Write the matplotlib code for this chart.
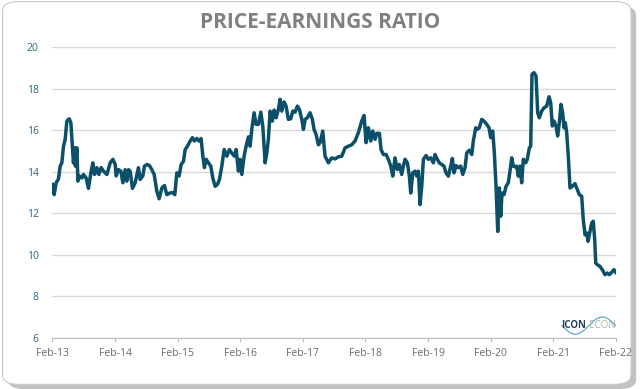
import matplotlib.pyplot as plt
import numpy as np
from matplotlib.patches import FancyBboxPatch

# years since Feb-13, price-earnings ratio
years = [0.0, 0.027, 0.059, 0.096, 0.123, 0.150, 0.176, 0.203, 0.230, 0.267, 0.294, 0.319, 0.335, 0.358, 0.367,
         0.390, 0.406, 0.431, 0.470, 0.495, 0.538, 0.575, 0.613, 0.645, 0.671, 0.709, 0.741, 0.778, 0.815, 0.869,
         0.922, 0.965, 1.002, 1.018, 1.054, 1.093, 1.125, 1.161, 1.188, 1.214, 1.241, 1.278, 1.321, 1.374, 1.401,
         1.444, 1.470, 1.508, 1.550, 1.588, 1.625, 1.668, 1.704, 1.748, 1.789, 1.827, 1.880, 1.923, 1.955, 1.987,
         2.024, 2.056, 2.093, 2.120, 2.157, 2.200, 2.236, 2.268, 2.307, 2.343, 2.375, 2.403, 2.428, 2.455, 2.492,
         2.530, 2.562, 2.599, 2.636, 2.668, 2.706, 2.743, 2.786, 2.827, 2.866, 2.907, 2.935, 2.971, 2.998, 3.026,
         3.062, 3.094, 3.131, 3.158, 3.185, 3.222, 3.254, 3.291, 3.329, 3.361, 3.398, 3.425, 3.450, 3.478, 3.514,
         3.542, 3.574, 3.610, 3.637, 3.665, 3.701, 3.733, 3.770, 3.808, 3.840, 3.877, 3.914, 3.946, 3.984, 4.010,
         4.037, 4.073, 4.116, 4.153, 4.180, 4.212, 4.249, 4.276, 4.319, 4.356, 4.409, 4.463, 4.516, 4.569, 4.623,
         4.675, 4.728, 4.783, 4.835, 4.888, 4.942, 4.979, 5.011, 5.048, 5.086, 5.118, 5.155, 5.182, 5.224, 5.251,
         5.288, 5.331, 5.367, 5.406, 5.438, 5.474, 5.511, 5.543, 5.581, 5.607, 5.634, 5.671, 5.703, 5.725, 5.757,
         5.794, 5.821, 5.847, 5.874, 5.901, 5.927, 5.970, 6.006, 6.045, 6.086, 6.113, 6.150, 6.182, 6.220, 6.257,
         6.289, 6.326, 6.364, 6.390, 6.417, 6.449, 6.486, 6.524, 6.556, 6.593, 6.620, 6.661, 6.700, 6.725, 6.764,
         6.789, 6.821, 6.859, 6.896, 6.939, 6.976, 7.003, 7.035, 7.061, 7.088, 7.115, 7.141, 7.163, 7.184, 7.216,
         7.248, 7.284, 7.311, 7.339, 7.364, 7.391, 7.419, 7.444, 7.471, 7.498, 7.524, 7.562, 7.588, 7.620, 7.642,
         7.663, 7.695, 7.727, 7.754, 7.780, 7.818, 7.855, 7.898, 7.935, 7.962, 7.987, 8.014, 8.046, 8.073, 8.099,
         8.126, 8.153, 8.174, 8.195, 8.217, 8.243, 8.270, 8.307, 8.350, 8.387, 8.419, 8.457, 8.482, 8.510, 8.537,
         8.558, 8.589, 8.617, 8.642, 8.665, 8.681, 8.706, 8.749, 8.792, 8.829, 8.866, 8.898, 8.936, 8.973, 9.0]
pe = [13.39, 12.9, 13.47, 13.66, 14.27, 14.43, 15.23, 15.56, 16.44, 16.55, 16.36, 15.2, 14.43, 15.15, 14.27,
      15.15, 13.55, 13.8, 13.7, 13.87, 13.7, 13.2, 13.95, 14.43, 13.87, 14.2, 13.87, 14.2, 14.03, 13.87,
      14.43, 14.6, 14.35, 13.8, 14.1, 14.03, 13.47, 14.1, 13.55, 14.1, 14.03, 13.2, 13.47, 14.2, 13.63,
      13.8, 14.27, 14.35, 14.3, 14.1, 13.87, 13.06, 12.7, 13.22, 13.34, 12.9, 12.98, 13.0, 12.9, 13.95,
      13.8, 14.35, 14.5, 15.07, 15.23, 15.48, 15.64, 15.48, 15.6, 15.48, 15.6, 14.75, 14.2, 14.6, 14.43,
      14.27, 13.7, 13.3, 13.39, 13.63, 14.27, 15.07, 14.75, 15.07, 14.9, 14.75, 15.07, 14.03, 14.6, 13.87,
      14.75, 15.23, 15.68, 15.23, 16.04, 16.84, 16.28, 16.28, 16.87, 16.2, 14.43, 14.9, 15.56, 16.92, 16.44,
      16.97, 16.6, 17.0, 17.49, 16.92, 17.36, 17.16, 16.52, 16.55, 16.92, 16.87, 17.16, 17.0, 16.52, 16.04,
      16.52, 16.6, 16.84, 16.52, 16.04, 15.8, 15.3, 15.4, 15.96, 14.75, 14.43, 14.67, 14.62, 14.72, 14.75,
      15.15, 15.23, 15.3, 15.48, 15.88, 16.44, 16.71, 15.4, 16.12, 15.48, 15.96, 15.56, 15.85, 15.85, 15.07,
      14.83, 14.83, 14.6, 14.27, 13.79, 14.67, 14.11, 14.35, 13.87, 14.27, 14.6, 14.43, 13.79, 12.98, 13.95,
      14.03, 13.79, 14.03, 12.42, 13.3, 14.6, 14.78, 14.6, 14.67, 14.43, 14.83, 14.6, 14.43, 14.35, 14.27,
      13.95, 13.79, 14.27, 14.64, 13.95, 14.3, 14.2, 14.27, 13.87, 14.2, 14.91, 15.04, 14.83, 15.48, 16.12,
      16.04, 16.12, 16.52, 16.44, 16.28, 16.12, 15.64, 15.96, 14.91, 13.3, 11.13, 13.22, 11.86, 12.98, 12.9,
      13.3, 13.47, 14.03, 14.67, 14.27, 14.24, 14.27, 13.79, 14.27, 13.47, 14.6, 14.43, 14.6, 15.15, 15.23,
      18.69, 18.77, 18.61, 16.84, 16.6, 16.92, 17.08, 17.16, 17.61, 17.32, 16.2, 16.44, 16.2, 15.72, 16.36,
      17.24, 16.84, 16.12, 16.36, 15.88, 14.75, 13.22, 13.3, 13.43, 13.14, 12.9, 12.82, 11.7, 10.97, 11.05,
      10.65, 11.13, 11.54, 11.62, 10.73, 9.61, 9.53, 9.45, 9.26, 9.05, 9.13, 9.05, 9.16, 9.29, 9.16]
tick_labels = ['Feb-13', 'Feb-14', 'Feb-15', 'Feb-16', 'Feb-17', 'Feb-18', 'Feb-19', 'Feb-20', 'Feb-21', 'Feb-22']
y_ticks = [6, 8, 10, 12, 14, 16, 18, 20]

plt.rcParams['font.family'] = ['Open Sans', 'DejaVu Sans']

fig = plt.figure(figsize=(6.4, 3.89), dpi=100)

# rounded card with a soft shadow
shadow = FancyBboxPatch((0.012, 0.0), 0.982, 0.985, boxstyle='round,pad=0,rounding_size=0.025',
                        transform=fig.transFigure, facecolor='#9a9a9a', edgecolor='none', alpha=0.6, zorder=-3)
card = FancyBboxPatch((0.004, 0.012), 0.982, 0.984, boxstyle='round,pad=0,rounding_size=0.025',
                      transform=fig.transFigure, facecolor='white', edgecolor='#c8c8c8', lw=0.8, zorder=-2)
fig.patches.extend([shadow, card])

ax = fig.add_axes([0.082, 0.131, 0.88, 0.748])
ax.set_facecolor('none')
ax.plot(years, pe, color='#0b4f68', lw=2.5, solid_joinstyle='round', zorder=3)

ax.set_xlim(0, 9)
ax.set_ylim(6, 20)
ax.set_xticks(range(len(tick_labels)))
ax.set_xticklabels(tick_labels, fontsize=7.5, color='#6b6b6b')
ax.set_yticks(y_ticks)
ax.set_yticklabels([str(v) for v in y_ticks], fontsize=7.5, color='#2f6480')
ax.tick_params(axis='y', length=0, pad=10)
ax.tick_params(axis='x', length=3, color='#bfbfbf', pad=4)
ax.grid(axis='y', color='#d9d9d9', lw=1)
for s in ['top', 'right', 'left']:
    ax.spines[s].set_visible(False)
ax.spines['bottom'].set_color('#bfbfbf')
ax.set_axisbelow(True)

fig.text(0.5, 0.943, 'PRICE-EARNINGS RATIO', ha='center', va='center', fontsize=15,
         fontweight='bold', color='#808080')

# logo
fig.text(0.877, 0.163, 'ICON', ha='left', va='center', fontsize=7, color='#24405e', fontweight='bold')
fig.text(0.921, 0.163, 'ECON', ha='left', va='center', fontsize=7, color='#b0b0b0')
wx = np.linspace(0.878, 0.962, 60)
fig.add_artist(plt.Line2D(wx, 0.163 + 0.022 * np.sin((wx - 0.878) / 0.084 * 2 * np.pi + np.pi),
                          transform=fig.transFigure, color='#4aa3c8', lw=0.8))

fig.savefig('out.png', dpi=100)
